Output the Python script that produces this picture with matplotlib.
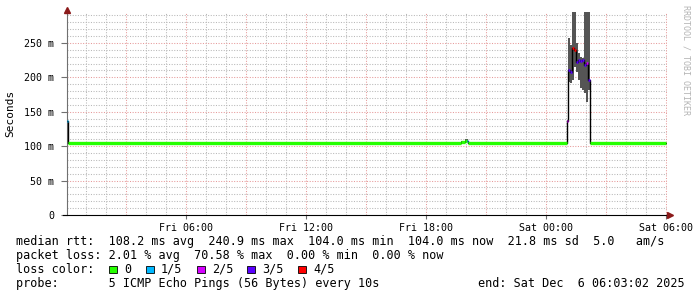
#!/usr/bin/env python3
import matplotlib
matplotlib.use("Agg")
import matplotlib.pyplot as plt
from matplotlib.patches import Rectangle

# ─── Data (hours since Fri 00:00, values in ms) ───────────────────────────────
seg_start = [0.05, 0.10, 19.75, 19.95, 20.05, 20.10,
             25.05, 25.10, 25.20, 25.30, 25.40, 25.50, 25.60,
             25.70, 25.80, 25.90, 26.00, 26.10, 26.20]
seg_end_time = 30.00
median_ms = [137, 104, 106, 107, 108, 104,
             137, 211, 208, 243, 240, 222, 225,
             224, 225, 218, 221, 196, 104]
smoke_lo = [125, 103, 104, 105, 106, 103,
            123, 193, 192, 196, 215, 208, 196,
            185, 182, 177, 164, 182, 103]
smoke_hi = [138, 105, 108, 110, 110, 105,
            138, 257, 247, 300, 300, 250, 235,
            230, 228, 300, 300, 300, 105]
loss_count = [1, 0, 0, 0, 1, 0,
              2, 3, 3, 4, 4, 3, 3,
              3, 3, 3, 2, 3, 0]

loss_labels = ["0", "1/5", "2/5", "3/5", "4/5"]
loss_colors = ["#26ff00", "#00b8ff", "#d400ff", "#5a00ff", "#ff0000"]

xtick_pos = [6, 12, 18, 24, 30]
xtick_labels = ["Fri 06:00", "Fri 12:00", "Fri 18:00", "Sat 00:00", "Sat 06:00"]
ytick_pos = [0, 50, 100, 150, 200, 250]
ytick_labels = ["0", "50 m", "100 m", "150 m", "200 m", "250 m"]

legend_lines = [
    "median rtt:  108.2 ms avg  240.9 ms max  104.0 ms min  104.0 ms now  21.8 ms sd  5.0   am/s",
    "packet loss: 2.01 % avg  70.58 % max  0.00 % min  0.00 % now",
]
probe_text = "probe:       5 ICMP Echo Pings (56 Bytes) every 10s"
end_text = "end: Sat Dec  6 06:03:02 2025"

# ─── Figure ───────────────────────────────────────────────────────────────────
W, H = 697, 297
MONO = "DejaVu Sans Mono"
fig = plt.figure(figsize=(W / 100, H / 100), dpi=100, facecolor="white")
ax = fig.add_axes([67 / W, 82 / H, 600 / W, 203 / H])
ax.set_xlim(0.05, 30.05)
ax.set_ylim(0, 295)

# grid: minor every hour / 10 ms, major every 3 h / 50 ms
dot = (0, (1, 1.5))
for h in range(1, 31):
    if h % 3:
        ax.axvline(h, color="#b8b8b8", lw=0.75, ls=dot, zorder=0)
for v in range(10, 295, 10):
    if v % 50:
        ax.axhline(v, color="#b8b8b8", lw=0.75, ls=dot, zorder=0)
for h in range(3, 31, 3):
    ax.axvline(h, color="#e69a9a", lw=0.75, ls=dot, zorder=0)
for v in range(50, 295, 50):
    ax.axhline(v, color="#e69a9a", lw=0.75, ls=dot, zorder=0)

# smoke
t_all = seg_start + [seg_end_time]
ax.fill_between(t_all, smoke_lo + [smoke_lo[-1]], smoke_hi + [smoke_hi[-1]],
                step="post", color="#555555", lw=0, zorder=2)

# median: black step, then loss-coloured segments
ax.step(t_all, median_ms + [median_ms[-1]], where="post", color="black",
        lw=1.0, zorder=3)
for i, t0 in enumerate(seg_start):
    t1 = t_all[i + 1]
    lc = loss_count[i]
    ax.hlines(median_ms[i], t0, t1, color=loss_colors[lc],
              lw=2.4 if lc == 0 else 1.8, zorder=4)

# axes styling
for s in ("top", "right"):
    ax.spines[s].set_visible(False)
ax.spines["bottom"].set_color("black")
ax.spines["left"].set_color("#707070")
ax.spines["bottom"].set_bounds(-0.15, 30.15)
ax.set_xticks(xtick_pos)
ax.set_xticklabels(xtick_labels, family=MONO, fontsize=7.2)
ax.set_yticks(ytick_pos)
ax.set_yticklabels(ytick_labels, family=MONO, fontsize=7.2)
ax.tick_params(axis="x", length=3, color="#707070", pad=3)
ax.tick_params(axis="y", length=4, color="#707070", pad=5)
ax.plot([1.005], [0], marker=">", color="#8b1a1a", ms=4, transform=ax.transAxes,
        clip_on=False, zorder=6)
ax.plot([0], [1.01], marker="^", color="#8b1a1a", ms=4, transform=ax.transAxes,
        clip_on=False, zorder=6)

fig.text(10 / W, 1 - 113 / H, "Seconds", rotation=90, ha="center", va="center",
         family=MONO, fontsize=8)
fig.text(686 / W, 1 - 5 / H, "RRDTOOL / TOBI OETIKER", rotation=270, ha="center",
         va="top", family=MONO, fontsize=6, color="#b4b4b4")

# legend block
for k, line in enumerate(legend_lines):
    fig.text(16 / W, 1 - (241.5 + 14 * k) / H, line, family=MONO, fontsize=8.5,
             va="center", ha="left")
fig.text(16 / W, 1 - 269.5 / H, "loss color:", family=MONO, fontsize=8.5,
         va="center", ha="left")
box_x = [109, 146, 197, 247, 298]
for bx, lab, col in zip(box_x, loss_labels, loss_colors):
    fig.add_artist(Rectangle((bx / W, 1 - 273 / H), 7.5 / W, 7.5 / H,
                             transform=fig.transFigure, facecolor=col,
                             edgecolor="black", lw=0.6))
    fig.text((bx + 15) / W, 1 - 269.5 / H, lab, family=MONO, fontsize=8.5,
             va="center", ha="left")
fig.text(16 / W, 1 - 283.5 / H, probe_text, family=MONO, fontsize=8.5,
         va="center", ha="left")
fig.text(478 / W, 1 - 283.5 / H, end_text, family=MONO, fontsize=8.5,
         va="center", ha="left")

fig.savefig("out.png", dpi=100, facecolor="white")
